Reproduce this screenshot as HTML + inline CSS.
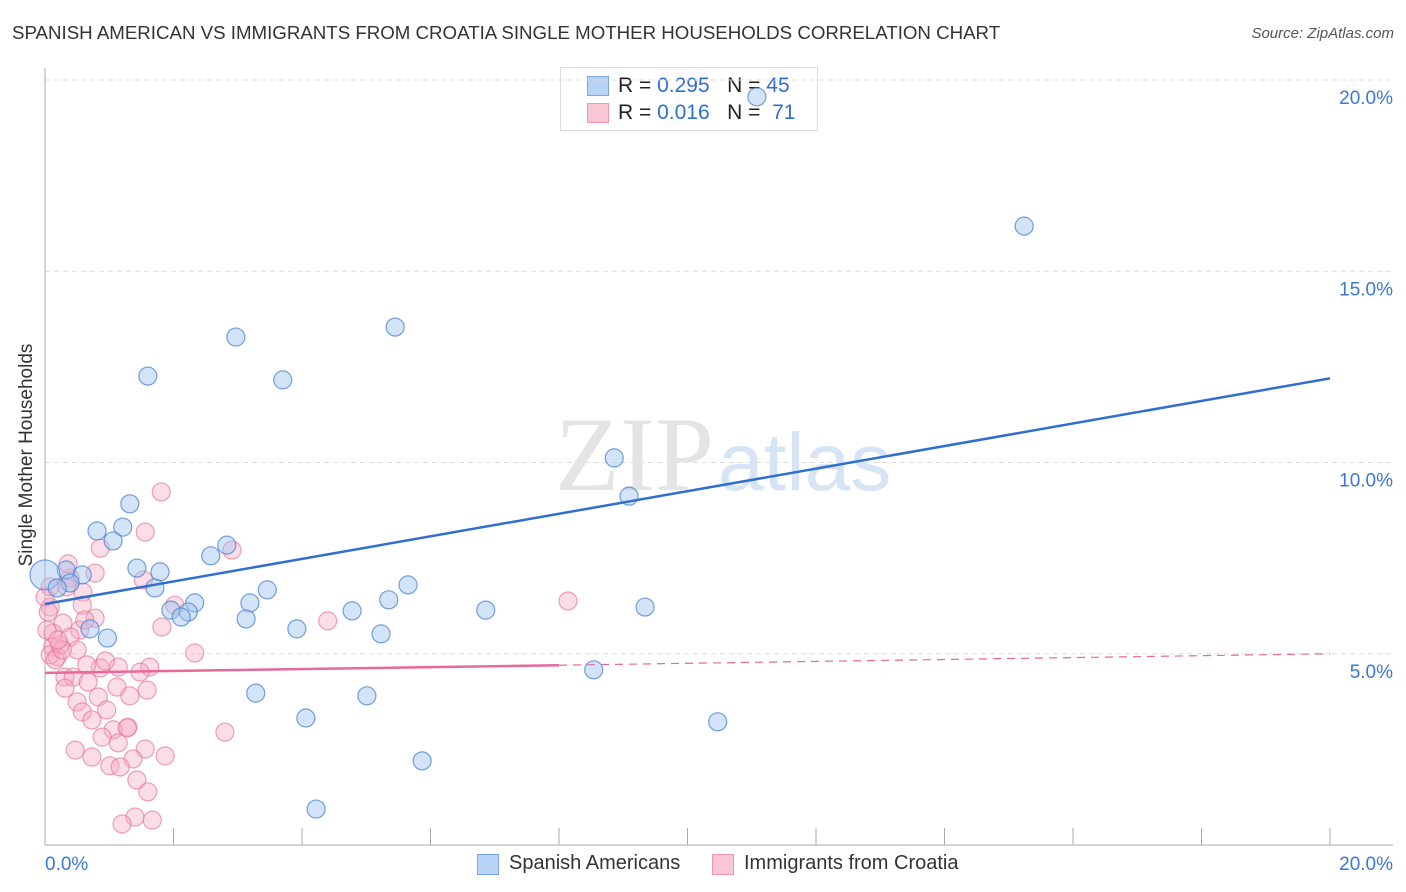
<!DOCTYPE html>
<html><head><meta charset="utf-8"><style>
body{margin:0;background:#fff;font-family:"Liberation Sans",sans-serif;}
#wrap{position:relative;width:1406px;height:892px;}
.t{position:absolute;white-space:nowrap;}
</style></head><body>
<div id="wrap">
<div class="t" style="left:12px;top:22px;font-size:18.7px;color:#333;">SPANISH AMERICAN VS IMMIGRANTS FROM CROATIA SINGLE MOTHER HOUSEHOLDS CORRELATION CHART</div>
<div class="t" style="right:12px;top:25px;font-size:15px;color:#555;font-style:italic;">Source: ZipAtlas.com</div>
<div class="t" style="left:-88px;top:444px;font-size:19px;color:#333;transform:rotate(-90deg);width:230px;text-align:center;">Single Mother Households</div>
<div style="position:absolute;left:560px;top:67px;width:256px;height:62px;border:1px solid #ddd;background:#fff;"></div>
<div style="position:absolute;left:587px;top:76px;width:20px;height:18px;background:#b8d3f5;border:1px solid #7aa6e0;"></div>
<div style="position:absolute;left:587px;top:103px;width:20px;height:18px;background:#f8c6d5;border:1px solid #ee95b0;"></div>
<div class="t" style="left:618px;top:74px;font-size:21px;color:#222;">R = <span style="color:#2f6fd0">0.295</span>&nbsp;&nbsp;&nbsp;N = <span style="color:#2f6fd0">45</span></div>
<div class="t" style="left:618px;top:101px;font-size:21px;color:#222;">R = <span style="color:#2f6fd0">0.016</span>&nbsp;&nbsp;&nbsp;N = &nbsp;<span style="color:#2f6fd0">71</span></div>
<svg id="plot" width="1406" height="892" style="position:absolute;left:0;top:0;"></svg>
<div style="position:absolute;left:477px;top:854px;width:20px;height:19px;background:#b8d3f5;border:1px solid #7aa6e0;"></div>
<div class="t" style="left:509px;top:852px;font-size:20px;color:#333;">Spanish Americans</div>
<div style="position:absolute;left:712px;top:854px;width:20px;height:19px;background:#f8c6d5;border:1px solid #ee95b0;"></div>
<div class="t" style="left:744px;top:852px;font-size:20px;color:#333;">Immigrants from Croatia</div>
</div>
<script>
const yTicks=[5,10,15,20];
const xTickLabels=["0.0%","20.0%"];
const blueX=[11.08,15.24,5.45,2.97,1.60,3.70,8.86,9.09,1.32,0.81,1.21,1.06,2.83,2.58,1.43,1.79,0.33,0.58,0,0.39,0.19,1.71,3.46,5.65,3.19,2.33,1.96,2.23,2.12,5.35,4.78,6.86,9.34,3.13,0.70,3.92,5.23,0.97,8.54,3.28,5.01,4.06,10.47,5.87,4.22];
const blueY=[19.56,16.18,13.54,13.28,12.26,12.16,10.12,9.12,8.92,8.21,8.31,7.95,7.84,7.56,7.24,7.14,7.19,7.06,7.06,6.85,6.72,6.72,6.67,6.80,6.33,6.33,6.14,6.09,5.96,6.41,6.12,6.14,6.22,5.91,5.65,5.65,5.52,5.41,4.58,3.97,3.90,3.32,3.22,2.20,0.94];
const pinkX=[1.81,1.56,2.91,0.78,0.39,1.53,0.34,0.59,0.08,0.58,0.08,2.02,0.78,0.28,0.54,1.82,0.39,0.12,0.50,0.12,0.19,0.08,2.33,1.63,1.14,0.86,0.65,1.48,0.31,0.44,0.67,0.31,1.12,1.59,1.32,0.83,0.50,0.96,0.58,0.73,1.29,1.06,0.89,1.14,2.80,1.56,0.47,1.87,0.73,1.37,1.01,1.17,1.43,1.60,1.40,1.67,1.20,1.28,4.40,8.14,0.03,0.23,0.16,0.0,0.05,0.27,0.36,0.86,0.20,0.62,0.94];
const pinkY=[9.23,8.18,7.71,7.11,6.98,6.93,6.75,6.61,6.75,6.27,6.22,6.27,5.93,5.80,5.62,5.70,5.44,5.54,5.10,5.18,4.92,4.97,5.02,4.65,4.65,4.63,4.71,4.52,4.39,4.39,4.26,4.10,4.13,4.05,3.90,3.87,3.74,3.53,3.48,3.27,3.08,3.01,2.82,2.67,2.95,2.51,2.48,2.33,2.30,2.25,2.07,2.04,1.70,1.39,0.73,0.65,0.55,3.06,5.86,6.38,5.62,5.23,4.84,6.48,6.09,5.10,7.35,7.76,5.36,5.88,4.81];
const blueTrend=[6.3,12.2];
const pinkTrend=[4.5,4.7,5.0];
const X=v=>45+v*64.25, Y=v=>845-v*38.25;
const svg=document.getElementById('plot');const NS='http://www.w3.org/2000/svg';
function mk(t,a){const e=document.createElementNS(NS,t);for(const k in a)e.setAttribute(k,a[k]);svg.appendChild(e);return e;}
yTicks.forEach(t=>{const l=mk('line',{x1:45,x2:1393,y1:Y(t),y2:Y(t),stroke:'#ddd','stroke-dasharray':'5,4'});


const tx=mk('text',{x:1393,y:Y(t)+24,'text-anchor':'end','font-size':19,fill:'#3a78d4','font-family':'Liberation Sans'});tx.textContent=t.toFixed(1)+'%';

});
const ax=mk('line',{x1:45,x2:45,y1:68,y2:845,stroke:'#aaa'});
const bx=mk('line',{x1:45,x2:1393,y1:845,y2:845,stroke:'#aaa'});
for(let i=0;i<=10;i++){const t=mk('line',{x1:X(i*2),x2:X(i*2),y1:828,y2:845,stroke:'#aaa'});}
[[0,'start'],[20,'end']].forEach((p,i)=>{const t=mk('text',{x:i?1393:45,y:870,'text-anchor':p[1],'font-size':19,fill:'#3a78d4','font-family':'Liberation Sans'});t.textContent=xTickLabels[i];});
const wm=mk('text',{x:555,y:490,'text-anchor':'start','font-size':106,'font-family':'Liberation Serif',fill:'#e4e4e4'});wm.innerHTML='ZIP<tspan fill="#d6e4f5" font-family="Liberation Sans" font-size="82" dx="4">atlas</tspan>';
pinkX.forEach((x,i)=>{const c=mk('circle',{cx:X(x),cy:Y(pinkY[i]),r:9,fill:'rgba(246,170,195,0.4)',stroke:'rgba(232,120,155,0.7)','stroke-width':1.2});});
blueX.forEach((x,i)=>{const c=mk('circle',{cx:X(x),cy:Y(blueY[i]),r:x===0?15:9,fill:'rgba(160,195,240,0.45)',stroke:'rgba(70,130,210,0.75)','stroke-width':1.2});});
const bt=mk('line',{x1:X(0),y1:Y(blueTrend[0]),x2:X(20),y2:Y(blueTrend[1]),stroke:'#2f6fd0','stroke-width':2.5});
const pt=mk('line',{x1:X(0),y1:Y(pinkTrend[0]),x2:X(8),y2:Y(pinkTrend[1]),stroke:'#e8689a','stroke-width':2.5});
const pd=mk('line',{x1:X(8),y1:Y(pinkTrend[1]),x2:X(20),y2:Y(pinkTrend[2]),stroke:'#e8689a','stroke-width':1.2,'stroke-dasharray':'8,6'});
</script>
</body></html>
